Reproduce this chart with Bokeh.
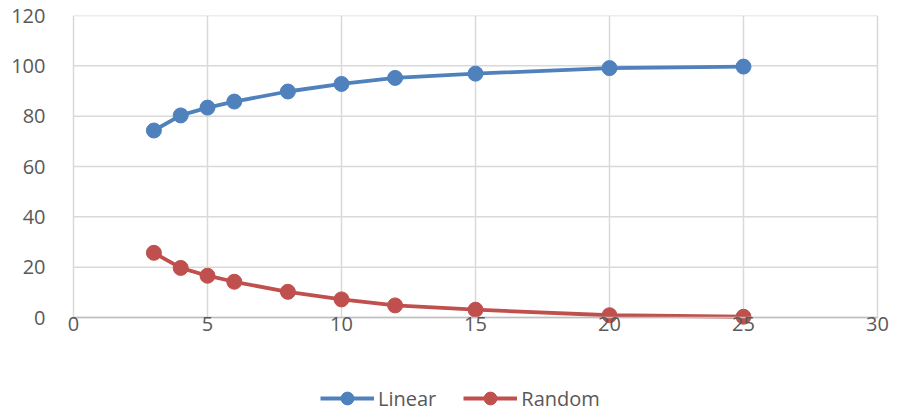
from bokeh.plotting import figure
from bokeh.models import Legend, LegendItem, FixedTicker, Range1d
from bokeh.embed import file_html
from bokeh.resources import INLINE

x_vals = [3, 4, 5, 6, 8, 10, 12, 15, 20, 25]
linear = [74.3, 80.3, 83.4, 85.8, 89.8, 92.8, 95.2, 96.9, 99.1, 99.7]
random_vals = [25.7, 19.7, 16.6, 14.2, 10.2, 7.2, 4.8, 3.1, 0.9, 0.3]
x_ticks = [0, 5, 10, 15, 20, 25, 30]
y_ticks = [0, 20, 40, 60, 80, 100, 120]

FONT = "Open Sans"
TXT = "#595959"
BLUE = "#4F81BD"
RED = "#C0504D"
GRID = "#D9D9D9"

# layout (pixels): value area 73..877 x 15..317; frame padded so edge labels fit
PAD_L, PAD_R, PAD_B = 18, 16, 95
AREA_W, AREA_H = 804, 302
X0, X1 = x_ticks[0], x_ticks[-1]
Y0, Y1 = y_ticks[0], y_ticks[-1]
ux = (X1 - X0) / AREA_W
uy = (Y1 - Y0) / AREA_H

p = figure(width=901, height=412, output_backend="svg", toolbar_location=None,
           x_range=Range1d(X0 - PAD_L * ux, X1 + PAD_R * ux),
           y_range=Range1d(Y0 - PAD_B * uy, Y1),
           min_border_left=73 - PAD_L, min_border_right=24 - PAD_R,
           min_border_top=15, min_border_bottom=0)
p.outline_line_color = None
p.xgrid.visible = False
p.ygrid.visible = False

# grid lines limited to the value area
p.segment(x0=x_ticks, y0=[Y0] * len(x_ticks), x1=x_ticks, y1=[Y1] * len(x_ticks),
          line_color=GRID, line_width=1.5)
p.segment(x0=[X0] * len(y_ticks), y0=y_ticks, x1=[X1] * len(y_ticks), y1=y_ticks,
          line_color=GRID, line_width=1.5)

l1 = p.line(x_vals, linear, line_color=BLUE, line_width=3.8)
s1 = p.scatter(x_vals, linear, size=15, fill_color=BLUE, line_color=BLUE)
l2 = p.line(x_vals, random_vals, line_color=RED, line_width=3.8)
s2 = p.scatter(x_vals, random_vals, size=15, fill_color=RED, line_color=RED)

for ax in (p.xaxis[0], p.yaxis[0]):
    ax.major_tick_line_color = None
    ax.minor_tick_line_color = None
    ax.major_label_text_font = FONT
    ax.major_label_text_font_size = "20px"
    ax.major_label_text_color = TXT
p.xaxis.ticker = FixedTicker(ticks=x_ticks)
p.yaxis.ticker = FixedTicker(ticks=y_ticks)
p.yaxis.axis_line_color = None
p.xaxis.axis_line_color = "#BFBFBF"
p.xaxis.axis_line_width = 1.5
p.xaxis.fixed_location = 0
p.xaxis.bounds = (X0, X1)
p.xaxis.major_label_standoff = -7
p.yaxis.major_label_standoff = 4

legend = Legend(items=[LegendItem(label="Linear", renderers=[l1, s1]),
                       LegendItem(label="Random", renderers=[l2, s2])],
                orientation="horizontal", location=(247 + PAD_L, -2),
                glyph_width=54, glyph_height=32, spacing=27, label_standoff=4,
                label_text_font=FONT, label_text_font_size="20px", label_text_color=TXT,
                border_line_color=None, background_fill_alpha=0, margin=0, padding=0)
p.add_layout(legend, "center")

open("out.html", "w").write(file_html(p, INLINE))
